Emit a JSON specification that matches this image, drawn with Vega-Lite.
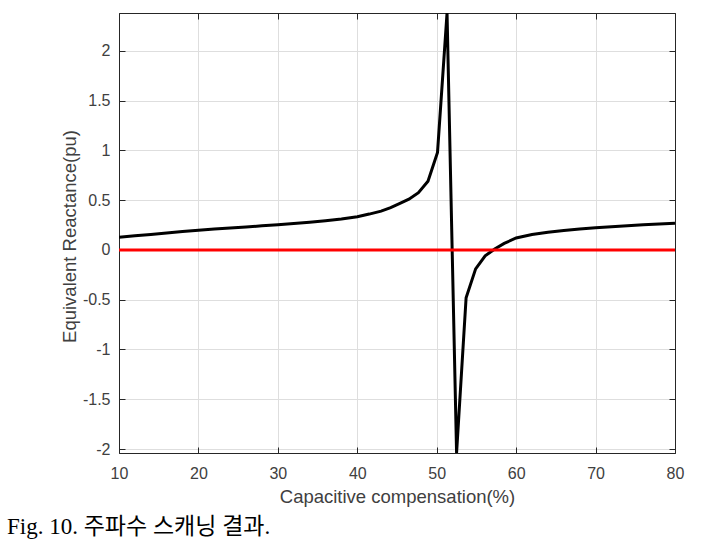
{
  "$schema": "https://vega.github.io/schema/vega-lite/v6.json",
  "width": 556,
  "height": 440,
  "autosize": "none",
  "padding": {"left": 119, "top": 13, "right": 26, "bottom": 91},
  "background": "white",
  "config": {
    "view": {"stroke": "#262626", "strokeWidth": 1},
    "axis": {
      "domainColor": "#262626",
      "tickColor": "#262626",
      "gridColor": "#dedede",
      "gridWidth": 1,
      "labelFont": "Liberation Sans",
      "labelFontSize": 16,
      "labelColor": "#404040",
      "labelFlush": false,
      "labelOverlap": false,
      "titleFont": "Liberation Sans",
      "titleFontSize": 18.5,
      "titleFontWeight": "normal",
      "titleColor": "#404040"
    }
  },
  "datasets": {
    "curve": [
      {"x": 10, "y": 0.127}, {"x": 12, "y": 0.142}, {"x": 14, "y": 0.156}, {"x": 16, "y": 0.17},
      {"x": 18, "y": 0.184}, {"x": 20, "y": 0.197}, {"x": 22, "y": 0.209}, {"x": 24, "y": 0.22},
      {"x": 26, "y": 0.231}, {"x": 28, "y": 0.242}, {"x": 30, "y": 0.253}, {"x": 32, "y": 0.265},
      {"x": 34, "y": 0.279}, {"x": 36, "y": 0.294}, {"x": 38, "y": 0.311}, {"x": 40, "y": 0.333},
      {"x": 41.5, "y": 0.36}, {"x": 43, "y": 0.39}, {"x": 44.2, "y": 0.425}, {"x": 45.3, "y": 0.465},
      {"x": 46.5, "y": 0.51}, {"x": 47.7, "y": 0.575}, {"x": 48.9, "y": 0.69}, {"x": 50.1, "y": 0.98},
      {"x": 51.3, "y": 2.38}, {"x": 52.5, "y": -2.04}, {"x": 53.7, "y": -0.48}, {"x": 54.9, "y": -0.19},
      {"x": 56.1, "y": -0.06}, {"x": 57.3, "y": 0.01}, {"x": 58.5, "y": 0.065}, {"x": 60, "y": 0.12},
      {"x": 62, "y": 0.155}, {"x": 64, "y": 0.178}, {"x": 66, "y": 0.196}, {"x": 68, "y": 0.21},
      {"x": 70, "y": 0.222}, {"x": 72, "y": 0.233}, {"x": 74, "y": 0.243}, {"x": 76, "y": 0.252},
      {"x": 78, "y": 0.26}, {"x": 80, "y": 0.268}
    ],
    "ref": [{"x": 10, "y": 0}, {"x": 80, "y": 0}]
  },
  "layer": [
    {
      "data": {"name": "curve"},
      "mark": {"type": "line", "color": "#000000", "strokeWidth": 3, "clip": true},
      "encoding": {
        "x": {
          "field": "x", "type": "quantitative",
          "scale": {"domain": [10, 80], "nice": false, "zero": false},
          "axis": {
            "orient": "bottom",
            "values": [10, 20, 30, 40, 50, 60, 70, 80],
            "labelExpr": "'' + datum.value",
            "tickSize": -6,
            "labelPadding": 31,
            "labelBaseline": "alphabetic",
            "title": "Capacitive compensation(%)",
            "titleBaseline": "alphabetic",
            "titleY": 49
          }
        },
        "y": {
          "field": "y", "type": "quantitative",
          "scale": {"domain": [-2.04, 2.38], "nice": false, "zero": false},
          "axis": {
            "orient": "left",
            "values": [-2, -1.5, -1, -0.5, 0, 0.5, 1, 1.5, 2],
            "labelExpr": "'' + datum.value",
            "tickSize": -6,
            "labelPadding": 15,
            "title": "Equivalent Reactance(pu)",
            "titleBaseline": "middle",
            "titleAngle": 270,
            "titleX": -50,
            "titleY": 223
          }
        }
      }
    },
    {
      "data": {"name": "ref"},
      "mark": {"type": "line", "color": "#ff0000", "strokeWidth": 3},
      "encoding": {
        "x": {
          "field": "x", "type": "quantitative",
          "scale": {"domain": [10, 80], "nice": false, "zero": false},
          "axis": {"orient": "top", "values": [10, 20, 30, 40, 50, 60, 70, 80], "labels": false, "grid": false, "title": null, "tickSize": -6}
        },
        "y": {
          "field": "y", "type": "quantitative",
          "scale": {"domain": [-2.04, 2.38], "nice": false, "zero": false},
          "axis": {"orient": "right", "values": [-2, -1.5, -1, -0.5, 0, 0.5, 1, 1.5, 2], "labels": false, "grid": false, "title": null, "tickSize": -6}
        }
      }
    }
  ],
  "resolve": {"axis": {"x": "independent", "y": "independent"}},
  "title": {
    "text": "Fig. 10. 주파수 스캐닝 결과.",
    "orient": "bottom",
    "anchor": "start",
    "frame": "bounds",
    "font": "Liberation Serif, Noto Sans CJK KR",
    "fontSize": 23,
    "fontWeight": "normal",
    "color": "#000000",
    "dx": -53,
    "offset": 10
  }
}
